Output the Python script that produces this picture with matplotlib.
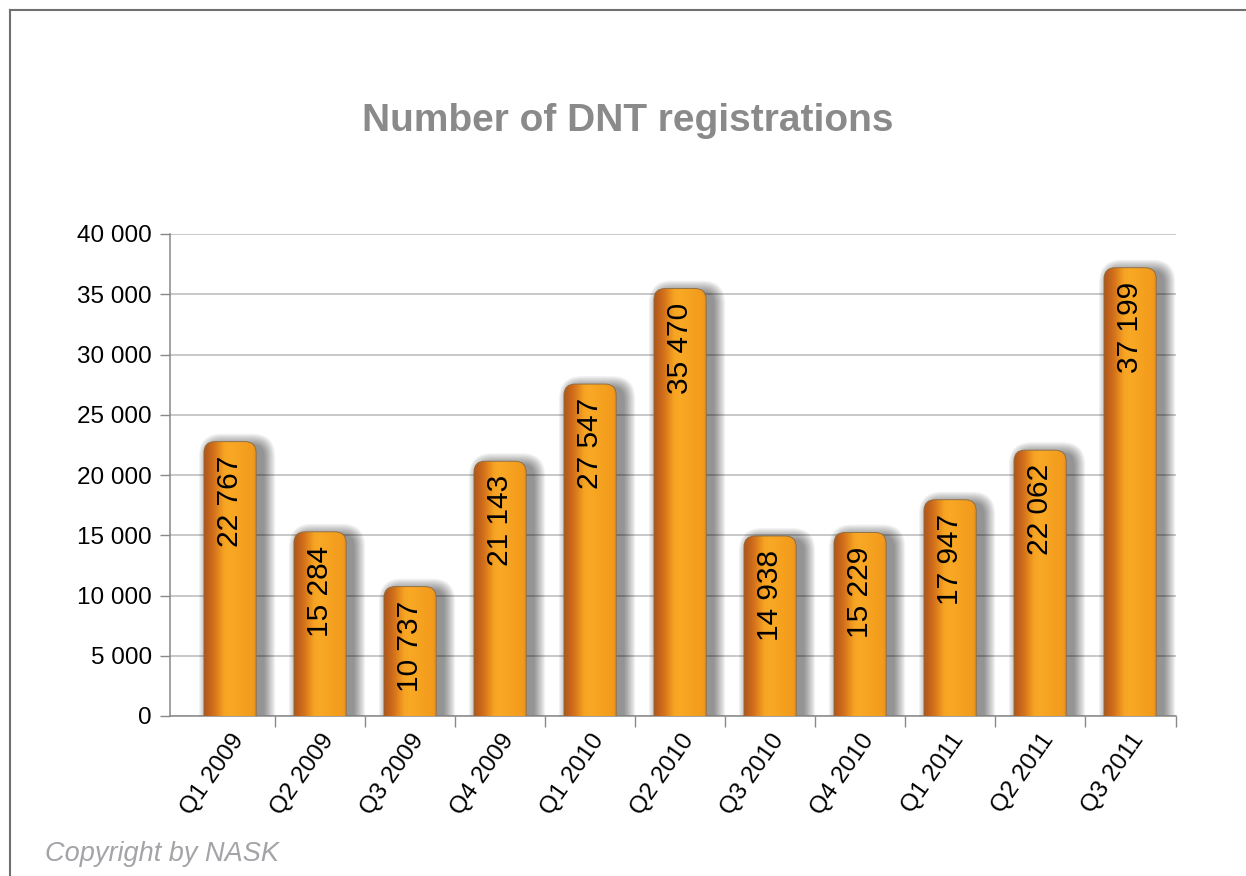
import numpy as np
import matplotlib
matplotlib.use("Agg")
import matplotlib.pyplot as plt
from matplotlib.patches import FancyBboxPatch
from matplotlib.colors import LinearSegmentedColormap
from matplotlib.ticker import FuncFormatter, FixedLocator
from matplotlib.lines import Line2D

# Number of DNT registrations per quarter (NASK)
quarters = ["Q1 2009", "Q2 2009", "Q3 2009", "Q4 2009", "Q1 2010", "Q2 2010",
            "Q3 2010", "Q4 2010", "Q1 2011", "Q2 2011", "Q3 2011"]
registrations = [22767, 15284, 10737, 21143, 27547, 35470,
                 14938, 15229, 17947, 22062, 37199]
y_ticks = [0, 5000, 10000, 15000, 20000, 25000, 30000, 35000, 40000]

plt.rcParams['font.family'] = ['Liberation Sans', 'DejaVu Sans']

W, H, DPI = 1246, 876, 100
fig = plt.figure(figsize=(W / DPI, H / DPI), dpi=DPI, facecolor='white')
ax_l, ax_r, ax_b, ax_t = 170 / W, 1176 / W, 1 - 716 / H, 1 - 234 / H
ax = fig.add_axes([ax_l, ax_b, ax_r - ax_l, ax_t - ax_b])

x = np.arange(len(quarters))
xlim = (-0.667, 10.51)
ylim = (0, 40000)
ax.set_xlim(*xlim)
ax.set_ylim(*ylim)

# pixel scale of data units (axes position is fixed)
px_x = (ax_r - ax_l) * W / (xlim[1] - xlim[0])
px_y = (ax_t - ax_b) * H / (ylim[1] - ylim[0])

bars = ax.bar(x, registrations, width=0.58)
for b in bars:
    b.set_visible(False)

cmap = LinearSegmentedColormap.from_list("bar", [
    (0.00, "#b0561b"), (0.18, "#d26f1b"), (0.38, "#f6a322"),
    (0.48, "#f9a925"), (0.75, "#f5a01f"), (0.93, "#f29a1c"), (1.00, "#e08a1c")])
grad = np.linspace(0, 1, 256).reshape(1, -1)

radius_px = 11
aspect = px_x / px_y
for b, v in zip(bars, registrations):
    x0, w, h = b.get_x(), b.get_width(), b.get_height()
    rx = radius_px / px_x
    below = 3 * rx * aspect
    # soft shadow, thrown to the right
    for k in range(10):
        grow = (k + 1) * 1.2
        sh = FancyBboxPatch((x0 + (7 - grow) / px_x, -below),
                            w + 2 * grow / px_x,
                            h + below + (grow - 4) / px_y,
                            boxstyle=f"round,pad=0,rounding_size={rx + grow / px_x}",
                            mutation_aspect=aspect, facecolor='black',
                            edgecolor='none', alpha=0.05, zorder=2)
        ax.add_patch(sh)
    body = FancyBboxPatch((x0, -below), w, h + below,
                          boxstyle=f"round,pad=0,rounding_size={rx}",
                          mutation_aspect=aspect, facecolor='none',
                          edgecolor='#8a6a40', linewidth=0.6, zorder=4)
    ax.add_patch(body)
    im = ax.imshow(grad, cmap=cmap, aspect='auto', extent=(x0, x0 + w, 0, h),
                   zorder=3, interpolation='bicubic')
    im.set_clip_path(body)
    ax.text(x0 + w / 2, h - 14 / px_y, f"{v:,}".replace(",", " "),
            rotation=90, ha='center', va='top', fontsize=21.5, color='black',
            zorder=5)

ax.set_xlim(*xlim)
ax.set_ylim(*ylim)

ax.yaxis.set_major_locator(FixedLocator(y_ticks))
ax.yaxis.set_major_formatter(FuncFormatter(lambda v, p: f"{v:,.0f}".replace(",", " ")))
ax.grid(axis='y', color='#c4c4c4', linewidth=1.3, zorder=0)
ax.set_axisbelow(True)

ax.set_xticks(x)
ax.set_xticklabels(quarters, rotation=55, ha='right', rotation_mode='anchor')
ax.set_xticks(list(x[:-1] + 0.5) + [xlim[1]], minor=True)
ax.tick_params(axis='x', which='major', length=0, pad=10, labelsize=17.5)
ax.tick_params(axis='x', which='minor', length=8, color='#888888', width=1)
ax.tick_params(axis='y', length=7, color='#888888', width=1, labelsize=17.5, pad=6)

for s in ['top', 'right']:
    ax.spines[s].set_visible(False)
ax.spines['left'].set_color('#888888')
ax.spines['bottom'].set_color('#888888')
ax.spines['left'].set_linewidth(1.1)
ax.spines['bottom'].set_linewidth(1.1)

fig.text(628 / W, 1 - 121 / H, "Number of DNT registrations", ha='center',
         va='center', fontsize=28, fontweight='bold', color='#8a8a8a')
fig.text(45 / W, 1 - 854 / H, "Copyright by NASK", ha='left', va='center',
         fontsize=19.5, style='italic', color='#a3a3a8')

# page frame (top and left edges)
fig.add_artist(Line2D([10 / W, 10 / W], [0, 1 - 10 / H], transform=fig.transFigure,
                      color='#707070', linewidth=1.5))
fig.add_artist(Line2D([10 / W, 1], [1 - 10 / H, 1 - 10 / H], transform=fig.transFigure,
                      color='#707070', linewidth=1.5))

fig.savefig('out.png', dpi=DPI, facecolor=fig.get_facecolor())
